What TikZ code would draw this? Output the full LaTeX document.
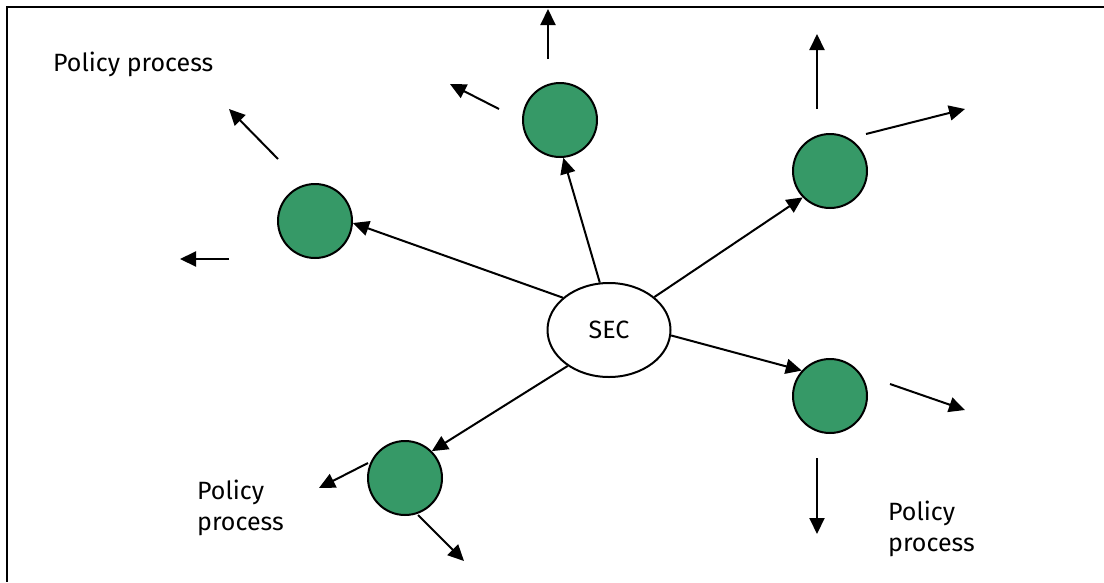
\documentclass[tikz,border=0pt]{standalone}
\usepackage{fontspec}
\setmainfont{Fira Sans}
\usetikzlibrary{arrows.meta,shapes.geometric}
\definecolor{actgreen}{RGB}{54,153,103}
\tikzset{
  actor/.style={circle,draw=black,line width=2pt,fill=actgreen,minimum size=74pt,inner sep=0pt},
  hub/.style={ellipse,draw=black,line width=2pt,fill=white,minimum width=123pt,minimum height=94pt,inner sep=0pt,font=\fontsize{25}{30}\selectfont},
  link/.style={line width=2pt,-{Triangle[length=16pt,width=15pt]}},
  lbl/.style={font=\fontsize{25}{31}\selectfont,align=left,inner sep=0pt,anchor=base west},
  frame/.style={line width=2pt}
}
\begin{document}
\begin{tikzpicture}[x=1pt,y=-1pt]
\useasboundingbox (0,0) rectangle (1104,582);
\coordinate (tl) at (7,7);
\coordinate (tr) at (1104,7);
\coordinate (bl) at (7,582);
\draw[frame] (tr) -- (tl) -- (bl);

\node[hub] (sec) at (609,330) {SEC};
\node[actor] (cl) at (315,221) {};
\node[actor] (ct) at (560,120) {};
\node[actor] (ctr) at (830,171) {};
\node[actor] (cr) at (830,396) {};
\node[actor] (cbl) at (405,478) {};

\draw[link] (sec.145) -- (cl.-3);
\draw[link] (sec.101) -- (ct.-85);
\draw[link] (sec.36) -- (ctr.224);
\draw[link] (sec.-5) -- (cr.138);
\draw[link] (sec.221) -- (cbl.45);

% free outgoing arrows
\coordinate (a1s) at (548,59);  \coordinate (a1e) at (548,9);
\coordinate (a2s) at (499,109); \coordinate (a2e) at (450,84);
\coordinate (a3s) at (278,159); \coordinate (a3e) at (229,109);
\coordinate (a4s) at (229,259); \coordinate (a4e) at (180,259);
\coordinate (a5s) at (817,109); \coordinate (a5e) at (817,34);
\coordinate (a6s) at (866,134); \coordinate (a6e) at (965,109);
\coordinate (a7s) at (890,384); \coordinate (a7e) at (965,410);
\coordinate (a8s) at (817,458); \coordinate (a8e) at (817,534);
\coordinate (a9s) at (368,463); \coordinate (a9e) at (319,488);
\coordinate (a10s) at (418,515); \coordinate (a10e) at (464,561);
\foreach \i in {1,...,10} \draw[link] (a\i s) -- (a\i e);

\node[lbl] (p1) at (53,71) {Policy process};
\node[lbl] (p2) at (197,530) {Policy\\process};
\node[lbl] (p3) at (888,551) {Policy\\process};
\end{tikzpicture}
\end{document}
